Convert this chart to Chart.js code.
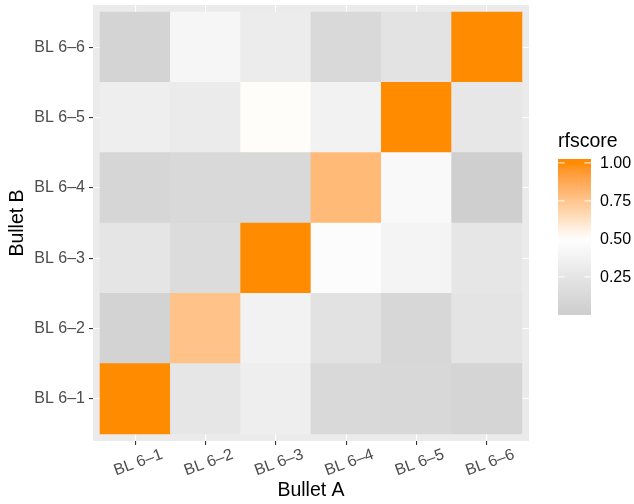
<!DOCTYPE html>
<html><head><meta charset="utf-8">
<script src="https://cdn.jsdelivr.net/npm/chart.js@4"></script>
<style>html,body{margin:0;padding:0;background:#fff}#wrap{width:634px;height:504px;position:relative}</style>
</head><body><div id="wrap"><canvas id="c" width="634" height="504"></canvas></div>
<script>
// ---- data ----
const bulletA = ['BL 6–1','BL 6–2','BL 6–3','BL 6–4','BL 6–5','BL 6–6'];
const bulletB = ['BL 6–1','BL 6–2','BL 6–3','BL 6–4','BL 6–5','BL 6–6'];
// rfscore per Bullet B row, listed in Bullet A order
const rfB61 = [1.00, 0.26, 0.34, 0.13, 0.12, 0.09];
const rfB62 = [0.07, 0.76, 0.37, 0.22, 0.11, 0.24];
const rfB63 = [0.25, 0.16, 1.00, 0.47, 0.39, 0.26];
const rfB64 = [0.10, 0.13, 0.13, 0.80, 0.44, 0.025];
const rfB65 = [0.34, 0.31, 0.51, 0.37, 1.00, 0.27];
const rfB66 = [0.08, 0.41, 0.32, 0.13, 0.23, 1.00];
const legendBreaks = [0.25, 0.50, 0.75, 1.00];
const rows = [rfB61, rfB62, rfB63, rfB64, rfB65, rfB66];

// ---- colour scale (low grey80, mid white at 0.5, high darkorange; Lab interpolation) ----
const FONT = '"Liberation Sans", Arial, Helvetica, sans-serif';
const lowCol = '#CCCCCC', midCol = '#FFFFFF', highCol = '#FF8C00', midpoint = 0.5;
function toLin(c){c/=255;return c<=0.04045?c/12.92:Math.pow((c+0.055)/1.055,2.4);}
function toS(c){const v=c<=0.0031308?12.92*c:1.055*Math.pow(c,1/2.4)-0.055;return Math.round(Math.min(1,Math.max(0,v))*255);}
const Xn=0.95047,Yn=1,Zn=1.08883;
function f(t){return t>0.008856?Math.cbrt(t):(7.787*t+16/116);}
function fi(t){return t>0.206893?t*t*t:(t-16/116)/7.787;}
function hexToLab(h){
  const r=toLin(parseInt(h.slice(1,3),16)),g=toLin(parseInt(h.slice(3,5),16)),b=toLin(parseInt(h.slice(5,7),16));
  const X=0.4124*r+0.3576*g+0.1805*b,Y=0.2126*r+0.7152*g+0.0722*b,Z=0.0193*r+0.1192*g+0.9505*b;
  const fx=f(X/Xn),fy=f(Y/Yn),fz=f(Z/Zn);
  return [116*fy-16,500*(fx-fy),200*(fy-fz)];
}
function labToRgb(L,a,b){
  const fy=(L+16)/116,fx=fy+a/500,fz=fy-b/200;
  const X=Xn*fi(fx),Y=Yn*fi(fy),Z=Zn*fi(fz);
  const r=3.2406*X-1.5372*Y-0.4986*Z,g=-0.9689*X+1.8758*Y+0.0415*Z,bb=0.0557*X-0.2040*Y+1.0570*Z;
  return 'rgb('+toS(r)+','+toS(g)+','+toS(bb)+')';
}
const labLow=hexToLab(lowCol),labMid=hexToLab(midCol),labHigh=hexToLab(highCol);
const allVals=rows.flat();
const vMin=Math.min(...allVals), vMax=Math.max(...allVals);
const halfRange=Math.max(Math.abs(vMin-midpoint),Math.abs(vMax-midpoint));
function fillFor(v){
  const t=0.5+(v-midpoint)/(2*halfRange);
  let A,B,s;
  if(t<=0.5){A=labLow;B=labMid;s=t/0.5;}else{A=labMid;B=labHigh;s=(t-0.5)/0.5;}
  s=Math.min(1,Math.max(0,s));
  return labToRgb(A[0]+(B[0]-A[0])*s,A[1]+(B[1]-A[1])*s,A[2]+(B[2]-A[2])*s);
}

// ---- datasets: one per Bullet B row, floating bars one unit tall ----
const datasets = rows.map((vals,j)=>({
  label: bulletB[j],
  data: vals.map((v,i)=>({x:i+1, y:[j+0.5, j+1.5]})),
  backgroundColor: vals.map(fillFor),
  borderWidth: 0,
  barPercentage: 1.0,
  categoryPercentage: 1.0,
  grouped: false
}));

const panelBg = {
  id:'panelBg',
  beforeDraw(chart){
    const {ctx,chartArea:a}=chart;
    ctx.save();
    ctx.fillStyle='#FFFFFF';ctx.fillRect(0,0,chart.width,chart.height);
    ctx.fillStyle='#EBEBEB';ctx.fillRect(a.left,a.top,a.right-a.left,a.bottom-a.top);
    ctx.restore();
  }
};

const colorBar = {
  id:'colorBar',
  afterDraw(chart){
    const ctx=chart.ctx;
    const bx=558,bw=33,by=159,bh=156,nbin=20;
    ctx.save();
    ctx.fillStyle='#000000';
    ctx.font='19.5px '+FONT;
    ctx.textAlign='left';ctx.textBaseline='alphabetic';
    ctx.fillText('rfscore',bx,147);
    const g=ctx.createLinearGradient(0,by+bh,0,by);
    for(let k=0;k<nbin;k++){
      const v=vMin+(vMax-vMin)*k/(nbin-1);
      g.addColorStop((k+0.5)/nbin,fillFor(v));
    }
    g.addColorStop(0,fillFor(vMin));g.addColorStop(1,fillFor(vMax));
    ctx.fillStyle=g;ctx.fillRect(bx,by,bw,bh);
    ctx.font='16px '+FONT;ctx.textBaseline='middle';
    legendBreaks.forEach(b=>{
      const y=by+bh-((0.5+(b-vMin)/(vMax-vMin)*(nbin-1))/nbin*bh);
      ctx.strokeStyle='#FFFFFF';ctx.lineWidth=1;
      ctx.beginPath();
      ctx.moveTo(bx,y);ctx.lineTo(bx+bw/5,y);
      ctx.moveTo(bx+bw-bw/5,y);ctx.lineTo(bx+bw,y);
      ctx.stroke();
      ctx.fillStyle='#000000';
      ctx.fillText(b.toFixed(2),bx+bw+9,y+1);
    });
    ctx.restore();
  }
};

const tickFont={family:FONT,size:16};
new Chart(document.getElementById('c'),{
  type:'bar',
  data:{datasets},
  plugins:[panelBg,colorBar],
  options:{
    responsive:false,animation:false,devicePixelRatio:1,
    layout:{padding:{left:0,right:105,top:5,bottom:0}},
    plugins:{legend:{display:false},tooltip:{enabled:false}},
    scales:{
      x:{type:'linear',min:0.4,max:6.6,offset:false,
        afterBuildTicks:s=>{s.ticks=bulletA.map((_,i)=>({value:i+1}));},
        afterFit:s=>{s.height=63;s.paddingLeft=0;s.paddingRight=0;},
        ticks:{callback:v=>bulletA[Math.round(v)-1],autoSkip:false,minRotation:20,maxRotation:20,
          labelOffset:27,color:'#4D4D4D',font:tickFont,padding:0},
        grid:{offset:false,color:'#FFFFFF',lineWidth:1.1,tickColor:'#333333',tickLength:4,drawTicks:true},
        border:{display:false},
        title:{display:true,text:'Bullet A',color:'#000000',font:{family:FONT,size:19.5},padding:{top:0,bottom:2}}
      },
      y:{type:'linear',min:0.4,max:6.6,offset:false,
        afterBuildTicks:s=>{s.ticks=bulletB.map((_,i)=>({value:i+1}));},
        afterFit:s=>{s.width=93;s.paddingTop=0;s.paddingBottom=0;},
        ticks:{callback:v=>bulletB[Math.round(v)-1],autoSkip:false,color:'#4D4D4D',font:tickFont,padding:4},
        grid:{offset:false,color:'#FFFFFF',lineWidth:1.1,tickColor:'#333333',tickLength:4,drawTicks:true},
        border:{display:false},
        title:{display:true,text:'Bullet B',color:'#000000',font:{family:FONT,size:19.5},padding:{top:6,bottom:4}}
      }
    }
  }
});
</script></body></html>
